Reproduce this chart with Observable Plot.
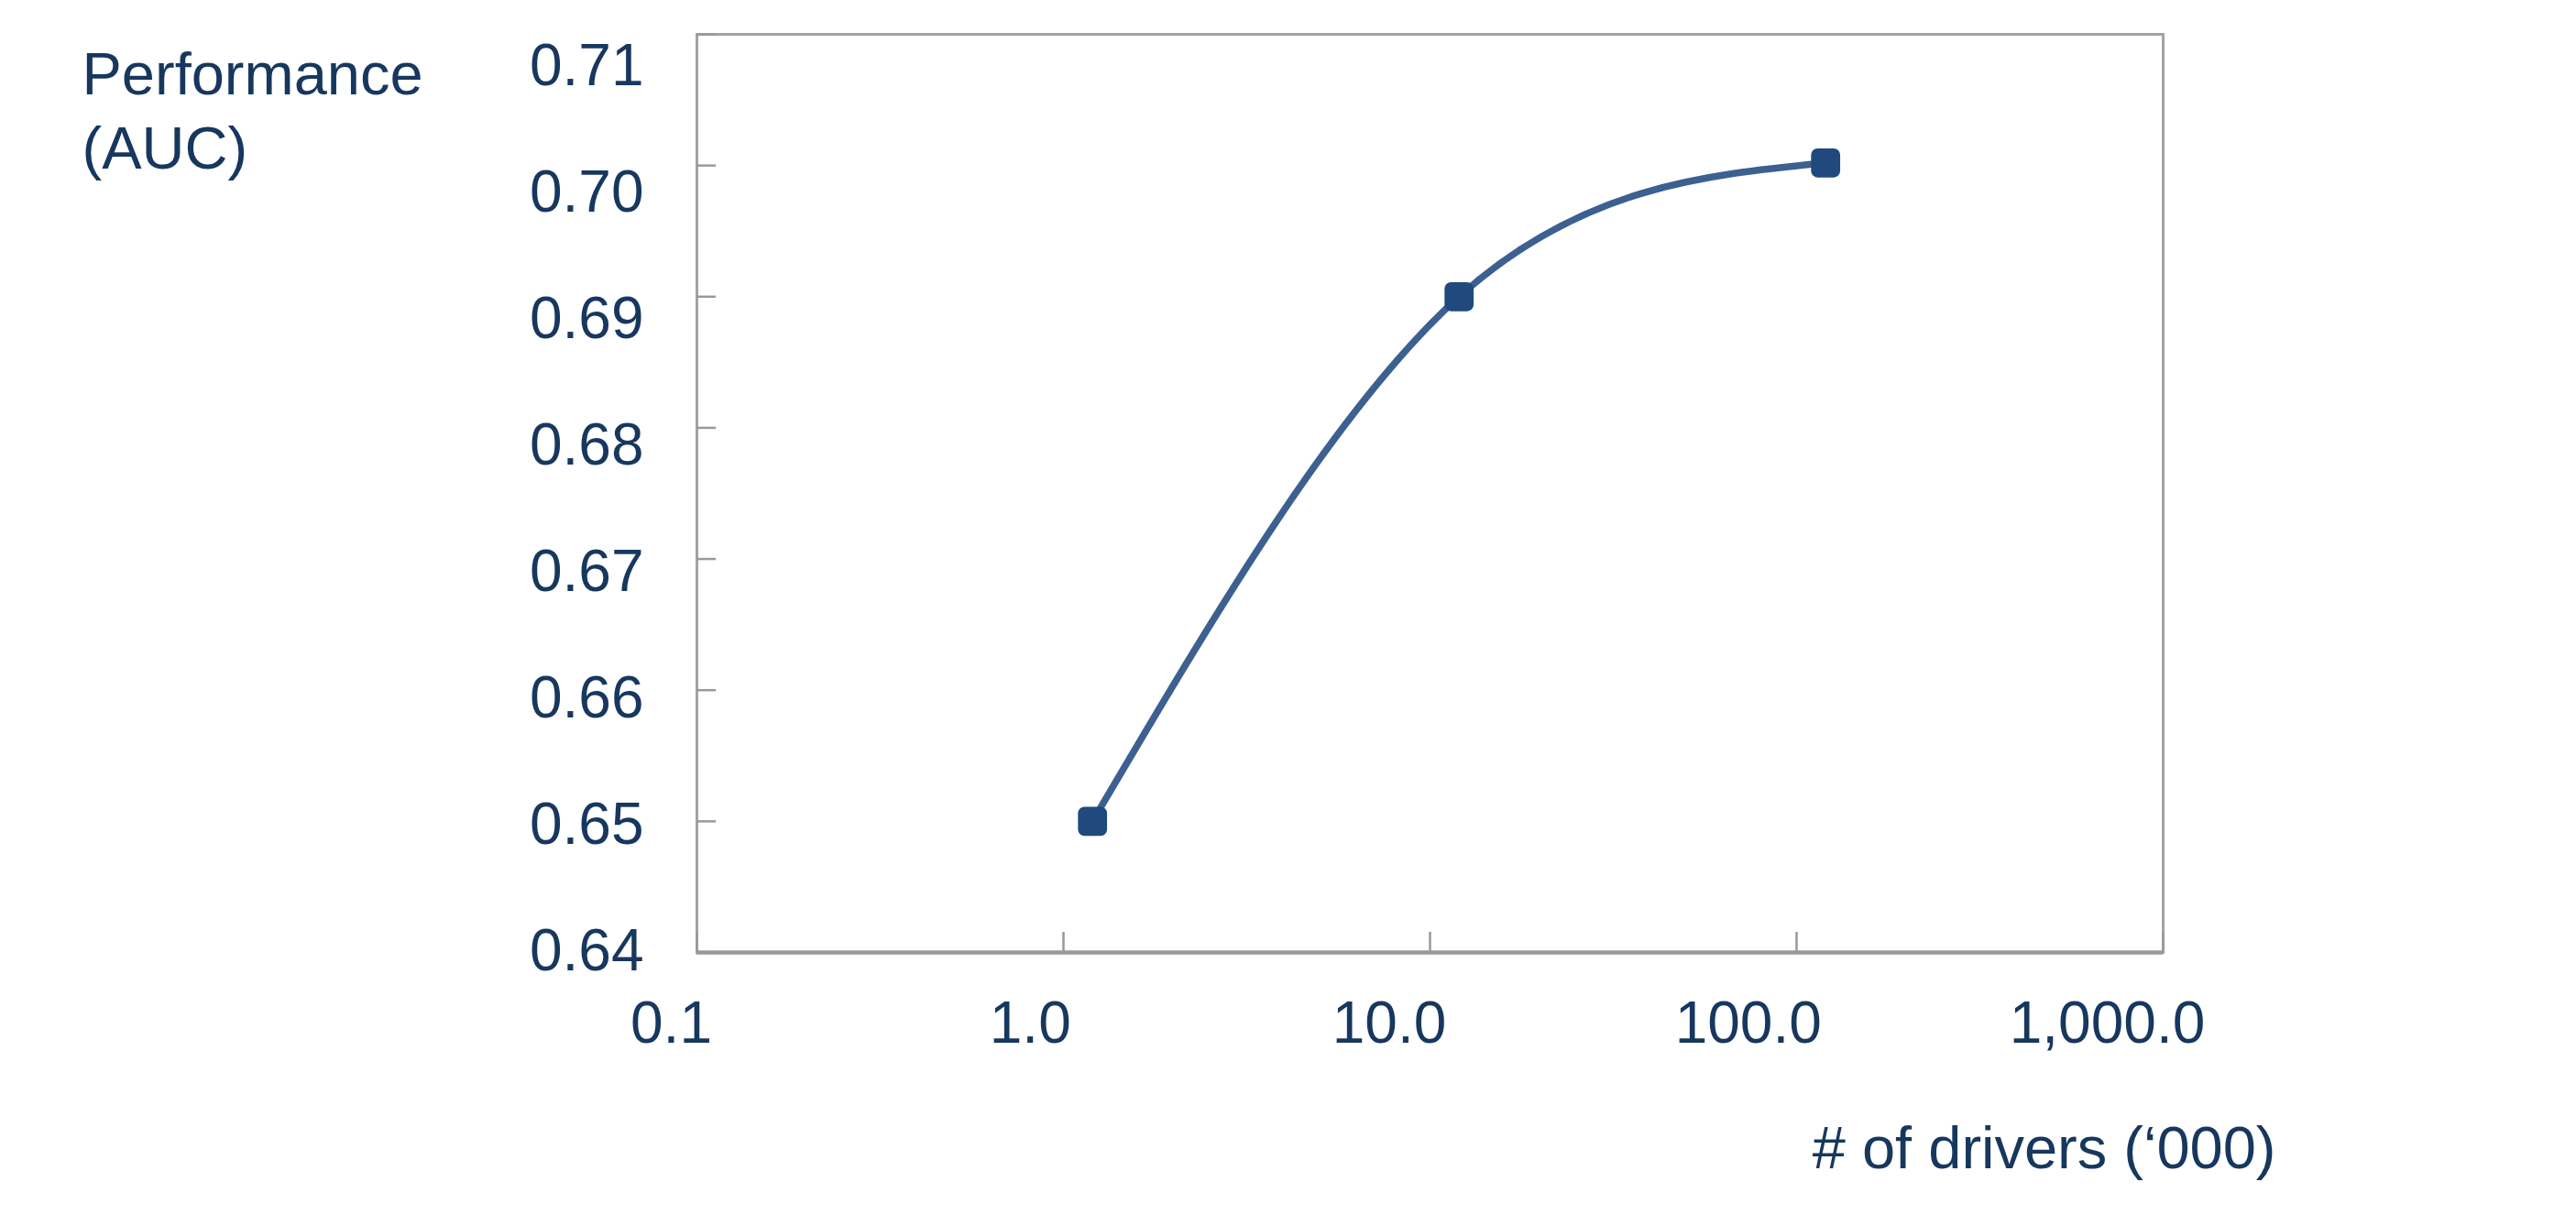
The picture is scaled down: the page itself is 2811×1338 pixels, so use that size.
<!DOCTYPE html>
<html>
<head>
<meta charset="utf-8">
<script src="https://cdn.jsdelivr.net/npm/d3@7"></script>
<script src="https://cdn.jsdelivr.net/npm/@observablehq/plot@0.6"></script>
<style>
  html, body { margin: 0; padding: 0; background: #fff; }
  #chart { position: relative; width: 2811px; height: 1338px; }
  #chart svg { display: block; }
  #chart svg.overlay { position: absolute; left: 0; top: 0; }
</style>
</head>
<body>
<div id="chart"></div>
<script>
// Data
const drivers = [1.2, 12, 120];          // # of drivers ('000)
const auc = [0.65, 0.69, 0.7002];        // Performance (AUC)
const yTicks = [0.64, 0.65, 0.66, 0.67, 0.68, 0.69, 0.70, 0.71];
const xTicks = [0.1, 1, 10, 100, 1000];
const yTitle = "Performance\n(AUC)";
const xTitle = "# of drivers (\u2018000)";

const data = drivers.map((x, i) => ({x, y: auc[i]}));

const textColor = "#17375e";
const axisGray = "#a3a3a3";
const lineColor = "#3c6090";
const markerColor = "#204a7e";
const font = "'Liberation Sans', Arial, Helvetica, sans-serif";

// Main plot: frame, ticks, series, titles
const chart = Plot.plot({
  width: 2811,
  height: 1338,
  marginLeft: 760,
  marginRight: 451,
  marginTop: 37,
  marginBottom: 299,
  style: {fontFamily: font, fontSize: "64px", color: textColor, background: "#fff"},
  x: {type: "log", domain: [0.1, 1000]},
  y: {domain: [0.64, 0.71]},
  marks: [
    Plot.frame({stroke: axisGray, strokeWidth: 3}),
    Plot.ruleY([0.64], {stroke: "#999", strokeWidth: 4.5}),
    Plot.axisY({ticks: yTicks, tickSize: -21, fill: "none", stroke: "#999", strokeWidth: 2.5, label: null}),
    Plot.axisX({ticks: xTicks, tickSize: -22, fill: "none", stroke: "#999", strokeWidth: 2.5, label: null}),
    Plot.line(data, {x: "x", y: "y", curve: "natural", stroke: lineColor, strokeWidth: 7.5}),
    Plot.dot(data, {x: "x", y: "y", symbol: "square", r: 10, fill: markerColor, stroke: markerColor, strokeWidth: 14, strokeLinejoin: "round"}),
    Plot.text([yTitle], {frameAnchor: "top-left", textAnchor: "start", lineAnchor: "top", dx: -671, dy: 8, lineHeight: 1.25, fontSize: 65, fill: textColor}),
    Plot.text([xTitle], {frameAnchor: "bottom-right", textAnchor: "end", lineAnchor: "middle", dx: 123, dy: 215, fontSize: 65, fill: textColor})
  ]
});

// Tick-label layer: the labels in the reference sit on a slightly tighter grid than the ticks
const labels = Plot.plot({
  width: 2811,
  height: 1338,
  marginLeft: 732,
  marginRight: 512,
  marginTop: 72,
  marginBottom: 300,
  style: {fontFamily: font, fontSize: "64px", color: textColor, background: "transparent"},
  x: {type: "log", domain: [0.1, 1000]},
  y: {domain: [0.64, 0.71]},
  marks: [
    Plot.axisY({ticks: yTicks, tickSize: 0, tickPadding: 30, tickFormat: d3.format(".2f"), label: null, fontSize: 64}),
    Plot.axisX({ticks: xTicks, tickSize: 0, tickPadding: 54, tickFormat: d3.format(",.1f"), label: null, fontSize: 64})
  ]
});
labels.classList.add("overlay");

const root = document.getElementById("chart");
root.appendChild(chart);
root.appendChild(labels);
</script>
</body>
</html>
